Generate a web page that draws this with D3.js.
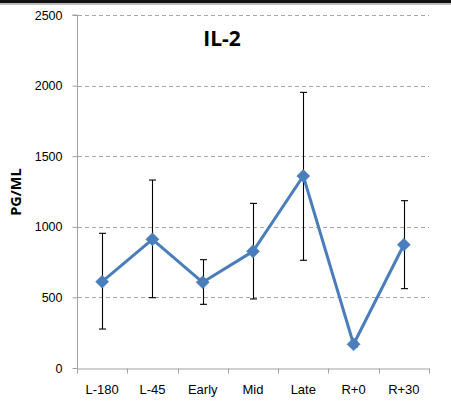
<!DOCTYPE html>
<html><head><meta charset="utf-8">
<script src="https://cdn.jsdelivr.net/npm/d3@7"></script>
<style>
body{margin:0;background:#fff;}
svg{display:block;font-family:"Open Sans",sans-serif;}
</style></head>
<body>
<script>
const categories = ["L-180","L-45","Early","Mid","Late","R+0","R+30"];
const values = [611, 911, 607, 826, 1360, 168, 873];
const errUpper = [954, 1331, 767, 1166, 1952, 185, 1185];
const errLower = [276, 498, 451, 489, 763, 150, 562];
const yTicks = [0, 500, 1000, 1500, 2000, 2500];
const title = "IL-2";
const yLabel = "PG/ML";

const W = 451, H = 404;
const svg = d3.select("body").append("svg").attr("width", W).attr("height", H);

svg.append("rect").attr("x",0).attr("y",0).attr("width",W).attr("height",3.3).attr("fill","#111");
svg.append("rect").attr("x",0).attr("y",3.3).attr("width",W).attr("height",1.7).attr("fill","#bdbdbd");

const x = d3.scaleBand().domain(categories).range([77, 429]);
const y = d3.scaleLinear().domain([0, 2500]).range([368, 15]);

svg.append("g").selectAll("line").data(yTicks.filter(d=>d>0)).join("line")
  .attr("x1", 78).attr("x2", 429)
  .attr("y1", d=>Math.round(y(d))+0.5).attr("y2", d=>Math.round(y(d))+0.5)
  .attr("stroke","#a6a6a6").attr("stroke-width",1).attr("stroke-dasharray","4,3");

const yAxis = d3.axisLeft(y).tickValues(yTicks).tickSize(5).tickPadding(10).tickFormat(d3.format("d"));
const gy = svg.append("g").attr("transform","translate(77.5,0)").call(yAxis);
gy.select(".domain").attr("stroke","#a0a0a0").attr("d", `M-5,${y(2500)}H0V${y(0)}`);
gy.selectAll(".tick line").attr("stroke","#a0a0a0");
gy.selectAll(".tick text").attr("font-size","12.5px").attr("fill","#000");

const xAxis = d3.axisBottom(x).tickSize(0).tickPadding(16);
const gx = svg.append("g").attr("transform",`translate(0,${Math.round(y(0))+0.5})`).call(xAxis);
gx.select(".domain").attr("stroke","#a0a0a0");
gx.selectAll(".tick text").attr("font-size","13px").attr("fill","#000");
const bounds = categories.map(c=>x(c)).concat([x.range()[1]]);
gx.append("g").selectAll("line").data(bounds).join("line")
  .attr("x1",d=>Math.round(d)+0.5).attr("x2",d=>Math.round(d)+0.5)
  .attr("y1",0).attr("y2",5).attr("stroke","#a0a0a0");

const cx = c => x(c) + x.bandwidth()/2;
const eb = svg.append("g").attr("stroke","#000").attr("stroke-width",1.1);
categories.forEach((c,i)=>{
  const xx = Math.round(cx(c))+0.5;
  eb.append("line").attr("x1",xx).attr("x2",xx).attr("y1",y(errUpper[i])).attr("y2",y(errLower[i]));
  eb.append("line").attr("x1",xx-3.5).attr("x2",xx+3.5).attr("y1",y(errUpper[i])).attr("y2",y(errUpper[i]));
  eb.append("line").attr("x1",xx-3.5).attr("x2",xx+3.5).attr("y1",y(errLower[i])).attr("y2",y(errLower[i]));
});

const line = d3.line().x((d,i)=>cx(categories[i])).y(d=>y(d));
svg.append("path").datum(values).attr("d",line)
  .attr("fill","none").attr("stroke","#4a7ebb").attr("stroke-width",3).attr("stroke-linejoin","round");

svg.append("g").selectAll("path").data(values).join("path")
  .attr("transform",(d,i)=>`translate(${cx(categories[i])},${y(d)})`)
  .attr("d", d3.symbol().type(d3.symbolDiamond2).size(110))
  .attr("fill","#4a7ebb").attr("stroke","#4a7ebb").attr("stroke-width",0.5);

svg.append("text").attr("x",222).attr("y",46).attr("text-anchor","middle")
  .attr("font-size","21px").attr("font-weight","bold").text(title);

svg.append("text").attr("transform","translate(21,192) rotate(-90)").attr("text-anchor","middle")
  .attr("font-size","14.5px").attr("font-weight","bold").text(yLabel);
</script>
</body></html>
